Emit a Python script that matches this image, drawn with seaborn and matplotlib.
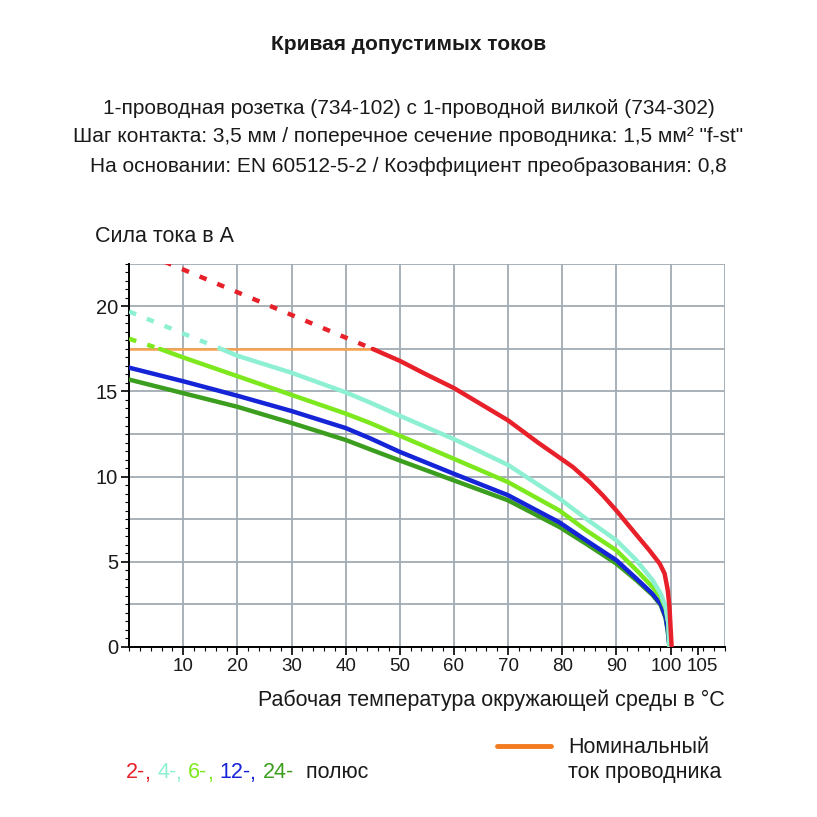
import numpy as np
import matplotlib
matplotlib.use('Agg')
import matplotlib.pyplot as plt
import matplotlib.transforms as mtransforms
import seaborn as sns
from matplotlib.offsetbox import TextArea, HPacker, AnnotationBbox

# data (temperature in °C, current in A)
red_dash_x = [0, 45]
red_dash_y = [23.5, 17.5]
red_x = [45, 50, 54.9, 60, 62.9, 70, 75.5, 80, 82.0, 85.1, 87.5, 90, 93.0, 96.1, 98.0, 98.9, 99.5, 99.8, 100.0, 100.2]
red_y = [17.5, 16.8, 16.0, 15.2, 14.65, 13.3, 12.0, 11.0, 10.55, 9.67, 8.89, 8.0, 6.84, 5.66, 4.88, 4.3, 3.3, 2.35, 1.17, 0.0]

cyan_dash_x = [0, 17]
cyan_dash_y = [19.7, 17.5]
cyan_x = [17, 20, 30, 40, 44.5, 50, 60, 70, 79.5, 84.4, 90, 93.7, 96.7, 98.2, 99.1, 99.6, 99.8]
cyan_y = [17.5, 17.1, 16.1, 14.95, 14.35, 13.57, 12.2, 10.68, 8.7, 7.52, 6.25, 5.08, 3.9, 3.1, 2.34, 1.37, 0.0]

lgreen_dash_x = [0, 5.7]
lgreen_dash_y = [18.1, 17.5]
lgreen_x = [5.7, 10, 20, 30, 40, 44.5, 50, 60, 70, 79.5, 84.4, 90, 93.7, 96.7, 98.2, 99.1, 99.6, 99.8]
lgreen_y = [17.5, 17.0, 15.9, 14.8, 13.7, 13.15, 12.4, 11.04, 9.67, 8.0, 6.84, 5.66, 4.5, 3.5, 2.9, 2.25, 1.37, 0.0]

blue_x = [0, 10, 20, 30, 40, 44.5, 50, 60, 70, 79.5, 84.4, 90, 93.7, 96.7, 98.2, 99.1, 99.5, 99.8]
blue_y = [16.4, 15.6, 14.75, 13.85, 12.85, 12.25, 11.45, 10.16, 8.9, 7.3, 6.25, 5.08, 4.0, 3.1, 2.5, 1.75, 0.98, 0.0]

dgreen_x = [0, 10, 20, 30, 40, 44.5, 50, 60, 70, 79.5, 84.4, 90, 93.7, 96.7, 98.2, 99.1, 99.5, 99.8]
dgreen_y = [15.7, 14.9, 14.1, 13.15, 12.15, 11.6, 10.94, 9.77, 8.6, 7.03, 6.05, 4.88, 3.9, 3.03, 2.44, 1.66, 0.88, 0.0]

nominal_x = [0, 45]
nominal_y = [17.5, 17.5]

x_ticks = [10, 20, 30, 40, 50, 60, 70, 80, 90, 100, 105]
y_ticks = [0, 5, 10, 15, 20]

pole_labels = ['2-', '4-', '6-', '12-', '24-']
pole_colors = ['#e8202a', '#8ef0d2', '#7ee81e', '#1424d6', '#3c9e1e']
orange = '#f8a24c'
orange_leg = '#f47a20'
txt_c = '#1a1a1a'

sns.set_theme(style='white')
plt.rcParams['font.family'] = ['Liberation Sans', 'DejaVu Sans']

fig = plt.figure(figsize=(8.17, 8.17), dpi=100)
ax = fig.add_axes([0.158, 0.2085, 0.729, 0.4685])

grid_c = '#a3abb3'
for gx in np.arange(10, 111, 10):
    ax.axvline(gx, color=grid_c, lw=1.3, zorder=0)
for gy in np.arange(2.5, 22.6, 2.5):
    ax.axhline(gy, color=grid_c, lw=1.3, zorder=0)

lw = 3.2
dash = [1.7, 2.6]
sns.lineplot(x=nominal_x, y=nominal_y, color=orange, lw=1.8, ax=ax, zorder=2)
for dx, dy, c in [(red_dash_x, red_dash_y, pole_colors[0]),
                  (cyan_dash_x, cyan_dash_y, pole_colors[1]),
                  (lgreen_dash_x, lgreen_dash_y, pole_colors[2])]:
    sns.lineplot(x=dx, y=dy, color=c, lw=lw, ax=ax, zorder=3)
    ax.lines[-1].set_dashes(dash)
sns.lineplot(x=dgreen_x, y=dgreen_y, color=pole_colors[4], lw=lw, ax=ax, zorder=3, sort=False)
sns.lineplot(x=blue_x, y=blue_y, color=pole_colors[3], lw=lw, ax=ax, zorder=4, sort=False)
sns.lineplot(x=lgreen_x, y=lgreen_y, color=pole_colors[2], lw=lw, ax=ax, zorder=5, sort=False)
sns.lineplot(x=cyan_x, y=cyan_y, color=pole_colors[1], lw=lw, ax=ax, zorder=6, sort=False)
sns.lineplot(x=red_x, y=red_y, color=pole_colors[0], lw=lw, ax=ax, zorder=7, sort=False)
for ln in ax.lines:
    ln.set_solid_joinstyle('round')

ax.set_xlim(0, 110)
ax.set_ylim(0, 22.5)
ax.set_xticks(x_ticks)
ax.set_xticks(np.arange(0, 111, 2), minor=True)
ax.set_yticks(y_ticks)
ax.set_yticks(np.arange(0, 22.6, 0.5), minor=True)
ax.tick_params(axis='both', which='major', length=6, width=1.2, color='black',
               labelcolor=txt_c, direction='out', bottom=True, left=True, pad=2)
ax.tick_params(axis='x', labelsize=13.5)
ax.tick_params(axis='y', labelsize=14.5)
ax.tick_params(axis='both', which='minor', length=3, width=0.8, color='black',
               direction='out', bottom=True, left=True)
for s in ['top', 'right']:
    ax.spines[s].set_visible(False)
for s in ['left', 'bottom']:
    ax.spines[s].set_color('black')
    ax.spines[s].set_linewidth(1.4)
ax.set_xlabel('')
ax.set_ylabel('')

# push the crowded 100 / 105 labels apart a little
for lab in ax.get_xticklabels():
    if lab.get_text() == '100':
        shift = -4
    elif lab.get_text() == '105':
        shift = 5
    else:
        continue
    lab.set_transform(lab.get_transform() + mtransforms.ScaledTranslation(shift / 100, 0, fig.dpi_scale_trans))

fig.text(0.5, 1 - 45 / 817, 'Кривая допустимых токов', ha='center', va='center',
         fontsize=15, fontweight='bold', color=txt_c)
sub = ['1-проводная розетка (734-102) с 1-проводной вилкой (734-302)',
       'Шаг контакта: 3,5 мм / поперечное сечение проводника: 1,5 мм² "f-st"',
       'На основании: EN 60512-5-2 / Коэффициент преобразования: 0,8']
for i, line in enumerate(sub):
    fig.text(0.5, 1 - (108 + 29 * i) / 817, line, ha='center', va='center',
             fontsize=15, color=txt_c)
fig.text(95 / 817, 1 - 237 / 817, 'Сила тока в А', ha='left', va='center',
         fontsize=15.5, color=txt_c)
fig.text(725 / 817, 1 - 700 / 817, 'Рабочая температура окружающей среды в °C',
         ha='right', va='center', fontsize=15.5, color=txt_c)

# colored pole legend
parts = []
for lab, c in zip(pole_labels, pole_colors):
    parts.append(TextArea(lab, textprops=dict(color=c, fontsize=15.5)))
    if lab != pole_labels[-1]:
        parts.append(TextArea(', ', textprops=dict(color=c, fontsize=15.5)))
parts.append(TextArea('  полюс', textprops=dict(color=txt_c, fontsize=15.5)))
box = HPacker(children=parts, align='baseline', pad=0, sep=0)
fig.add_artist(AnnotationBbox(box, (126 / 817, 1 - 773 / 817), xycoords='figure fraction',
                              box_alignment=(0, 0.5), frameon=False, pad=0))

fig.add_artist(plt.Line2D([497 / 817, 551 / 817], [1 - 746 / 817, 1 - 746 / 817],
                          color=orange_leg, lw=3.5, transform=fig.transFigure))
fig.text(568 / 817, 1 - 760 / 817, 'Номинальный\nток проводника', ha='left', va='center',
         fontsize=15.5, color=txt_c, linespacing=1.25)

fig.savefig('out.png', dpi=100, facecolor='white')
